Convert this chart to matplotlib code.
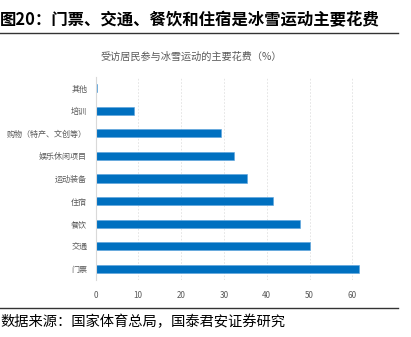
import matplotlib
matplotlib.use("Agg")
import matplotlib.pyplot as plt
import numpy as np

plt.rcParams['font.family'] = ['Noto Sans CJK SC', 'DejaVu Sans']

'''data read from the chart, top to bottom'''
categories = ['其他', '培训', '购物（特产、文创等）', '娱乐休闲项目', '运动装备',
              '住宿', '餐饮', '交通', '门票']
values = [0.3, 9.1, 29.3, 32.4, 35.4, 41.4, 47.7, 50.1, 61.6]
xticks = [0, 10, 20, 30, 40, 50, 60]

W, H = 411, 337
fig = plt.figure(figsize=(W / 100, H / 100), dpi=100)

'''figure header and footer'''
fig.text(0 / W, 1 - 20 / H, '图20：门票、交通、餐饮和住宿是冰雪运动主要花费',
         fontsize=11.8, fontweight='bold', va='center', ha='left', color='black')
fig.add_artist(plt.Line2D([0, 398 / W], [1 - 33 / H, 1 - 33 / H],
                          color='#333333', lw=1.0))
fig.add_artist(plt.Line2D([0, 398 / W], [1 - 308 / H, 1 - 308 / H],
                          color='#333333', lw=1.0))
fig.text(0 / W, 1 - 322 / H, '数据来源：国家体育总局，国泰君安证券研究',
         fontsize=10.3, va='center', ha='left', color='black')
fig.text(191 / W, 1 - 57 / H, '受访居民参与冰雪运动的主要花费（%）',
         fontsize=7.3, va='center', ha='center', color='#595959')

'''bar chart'''
ax = fig.add_axes([95.5 / W, 1 - 280 / H, 65 * 4.28 / W, 203 / H])
y = np.arange(len(categories))
ax.barh(y, values, height=0.36, color='#0070C0', edgecolor='#5BA3DC', lw=0.4)
ax.set_ylim(len(categories) - 0.5, -0.5)
ax.set_xlim(0, 65)
ax.set_xticks(xticks)
ax.set_yticks(y)
ax.set_yticklabels(categories)
ax.tick_params(axis='both', length=0, labelsize=5.8, colors='#595959')
ax.tick_params(axis='x', pad=8)
ax.tick_params(axis='y', pad=6)
ax.xaxis.grid(True, ls=(0, (2, 2)), color='#E0E0E0', lw=0.6)
ax.set_axisbelow(True)
for s in ['top', 'right', 'bottom']:
    ax.spines[s].set_visible(False)
ax.spines['left'].set_color('#D9D9D9')
ax.spines['left'].set_linewidth(0.8)

fig.savefig('out.png', dpi=100)
